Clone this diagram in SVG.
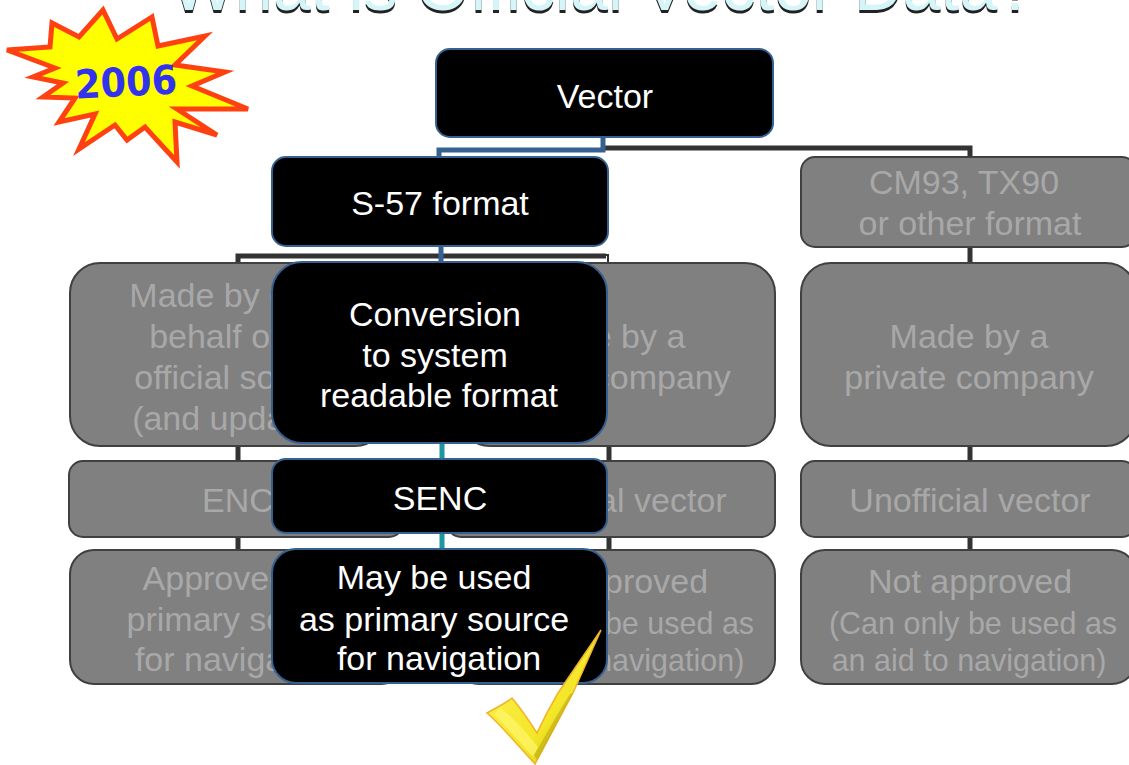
<svg xmlns="http://www.w3.org/2000/svg" width="1129" height="765" viewBox="0 0 1129 765">
<defs>
<linearGradient id="chk" x1="0" y1="0" x2="1" y2="1"><stop offset="0" stop-color="#fff45a"/><stop offset="0.6" stop-color="#f4e628"/><stop offset="1" stop-color="#c8b000"/></linearGradient>
</defs>
<style>
text{font-family:"Liberation Sans",Arial,sans-serif;text-anchor:middle;font-size:34px}
.small{font-size:30.5px}
.g rect{fill:#808080;stroke:#404040;stroke-width:2}
.g text{fill:#a8a8a8;transform:translateY(1px)}
.k rect{fill:#000;stroke:#366092;stroke-width:2}
.k text{fill:#fff;transform:translateY(1px)}
.c{fill:none;stroke:#333;stroke-width:5}
.th{fill:none;stroke:#333;stroke-width:2}
.b{fill:none;stroke:#366092;stroke-width:5}
.t{fill:none;stroke:#1a9a9e;stroke-width:5}
.tt{font-size:68px}
</style>
<rect width="1129" height="765" fill="#fff"/>
<g id="title">
<text class="tt" x="605" y="11" fill="#222" transform="translate(-2,2)">What is Official Vector Data?</text>
<text class="tt" x="603" y="10" fill="#d6f5f8">What is Official Vector Data?</text>
</g>
<g id="connectors">
<path class="c" d="M604 148H970V157"/>
<path class="b" d="M439 157V150H603V138"/>
<path class="c" d="M238 263V256H606"/>
<path class="th" d="M606 255H608V263"/>
<path class="c" d="M970 247V263M970 446V461M970 537V550M238 446V461M238 537V550M609 446V461M609 537V550"/>
<path class="b" d="M441 247V263"/>
<path class="t" d="M442 443V459M442 533V549"/>
</g>
<g id="n-made-official" class="g"><rect x="70" y="263" width="315" height="183" rx="30"/>
<text x="238" y="306">Made by or on</text><text x="238" y="347">behalf of an</text><text x="238" y="388">official source</text><text x="238" y="429">(and updated)</text></g>
<g id="n-made-private" class="g"><rect x="460" y="263" width="315" height="183" rx="30"/>
<text x="606" y="347">Made by a</text><text x="606" y="388">private company</text></g>
<g id="n-made-private2" class="g"><rect x="801" y="263" width="335" height="183" rx="30"/>
<text x="969" y="347">Made by a</text><text x="969" y="388">private company</text></g>
<g id="n-enc" class="g"><rect x="69" y="461" width="334" height="76" rx="14"/><text x="238" y="511">ENC</text></g>
<g id="n-unofficial1" class="g"><rect x="447" y="461" width="328" height="76" rx="14"/><text x="606" y="511">Unofficial vector</text></g>
<g id="n-unofficial2" class="g"><rect x="801" y="461" width="335" height="76" rx="14"/><text x="970" y="511">Unofficial vector</text></g>
<g id="n-approved" class="g"><rect x="70" y="550" width="335" height="134" rx="24"/>
<text x="238" y="589">Approved as</text><text x="239" y="630">primary source</text><text x="237" y="670">for navigation</text></g>
<g id="n-notapproved1" class="g"><rect x="455" y="550" width="320" height="134" rx="24"/>
<text x="606" y="592">Not approved</text><text class="small" x="610" y="633">(Can only be used as</text><text class="small" x="607" y="670">an aid to navigation)</text></g>
<g id="n-notapproved2" class="g"><rect x="801" y="550" width="335" height="134" rx="24"/>
<text x="970" y="592">Not approved</text><text class="small" x="973" y="633">(Can only be used as</text><text class="small" x="969" y="670">an aid to navigation)</text></g>
<g id="n-cm93" class="g"><rect x="801" y="157" width="335" height="90" rx="14"/>
<text x="964" y="193">CM93, TX90</text><text x="970" y="234">or other format</text></g>
<g id="n-vector" class="k"><rect x="436" y="49" width="337" height="88" rx="14"/><text x="605" y="107">Vector</text></g>
<g id="n-s57" class="k"><rect x="272" y="157" width="336" height="89" rx="14"/><text x="440" y="214">S-57 format</text></g>
<g id="n-conversion" class="k"><rect x="272" y="262" width="335" height="181" rx="30"/>
<text x="435" y="325">Conversion</text><text x="435" y="366">to system</text><text x="439" y="406">readable format</text></g>
<g id="n-senc" class="k"><rect x="272" y="459" width="335" height="74" rx="14"/><text x="440" y="509">SENC</text></g>
<g id="n-primary" class="k"><rect x="272" y="549" width="335" height="134" rx="24"/>
<text x="434" y="588">May be used</text><text x="434" y="630">as primary source</text><text x="439" y="669">for navigation</text></g>
<g id="burst">
<path d="M7 50L50 47L52 23L79 37L103 10L117 39L152 17L158 46L205 36L175 65L225 72L192 86L248 109L177 109L217 135L175 122L177 162L145 127L127 140L115 125L79 149L95 114L59 122L75 98L43 97L63 83L33 77L55 68Z" fill="#ff0" stroke="#ff4010" stroke-width="5"/>
<text x="126" y="96" transform="rotate(-3 126 82)" style="font-size:40px;font-weight:bold;font-family:'DejaVu Sans',sans-serif" fill="#3333ee" textLength="102" lengthAdjust="spacingAndGlyphs">2006</text>
</g>
<g id="check">
<path d="M601 630L573 693L535 764C520 748 503 727 487 713C496 708 506 703 512 698C522 710 530 722 537 733C544 718 551 705 558 693Z" fill="url(#chk)" stroke="#f0b428" stroke-width="1.5"/>
<path d="M494 714C506 726 520 742 533 757L538 747C526 732 512 716 500 708Z" fill="#fff87a" opacity="0.6"/>
<path d="M537 760C548 741 560 716 573 693L570 694C556 716 544 738 534 755Z" fill="#a89a10" opacity="0.45"/>
</g>
</svg>
